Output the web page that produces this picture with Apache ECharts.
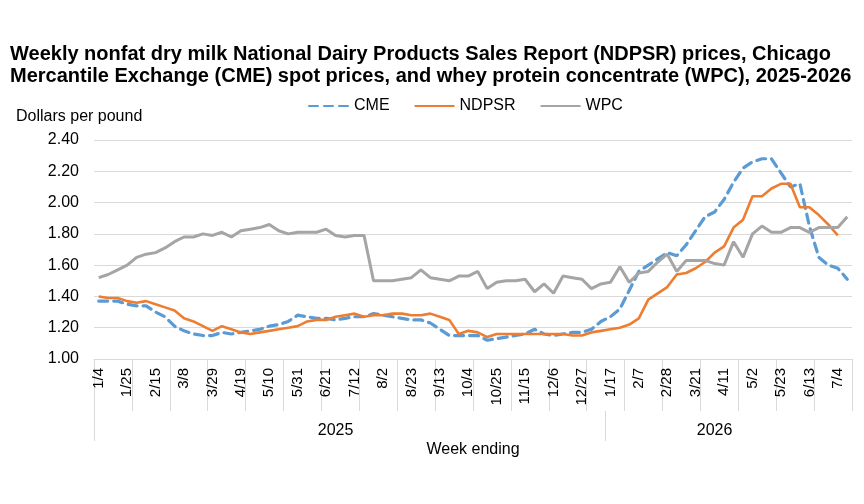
<!DOCTYPE html>
<html>
<head>
<meta charset="utf-8">
<script src="https://cdn.jsdelivr.net/npm/echarts@6/dist/echarts.min.js"></script>
<style>
  html, body { margin: 0; padding: 0; background: #fff; }
  #chart { width: 864px; height: 504px; }
</style>
</head>
<body>
<div id="chart"></div>
<script>
// week ending dates, 2025 then 2026
var weeks = [
  '1/4','1/11','1/18','1/25','2/1','2/8','2/15','2/22','3/1','3/8','3/15','3/22','3/29',
  '4/5','4/12','4/19','4/26','5/3','5/10','5/17','5/24','5/31','6/7','6/14','6/21','6/28',
  '7/5','7/12','7/19','7/26','8/2','8/9','8/16','8/23','8/30','9/6','9/13','9/20','9/27',
  '10/4','10/11','10/18','10/25','11/1','11/8','11/15','11/22','11/29','12/6','12/13','12/20','12/27',
  '1/3','1/10','1/17','1/24','1/31','2/7','2/14','2/21','2/28','3/7','3/14','3/21','3/28',
  '4/4','4/11','4/18','4/25','5/2','5/9','5/16','5/23','5/30','6/6','6/13','6/20','6/27',
  '7/4','7/11'
];
var years = ['2025', '2026'];
var yearLabelIndex = [25, 65];   // week under which each year label sits
var yearBreaks = [0, 54];        // week boundaries where the year separator lines are drawn

var cme = [
  1.37,1.37,1.37,1.35,1.34,1.34,1.30,1.27,1.21,1.18,1.16,1.15,1.15,1.17,1.16,1.17,1.18,1.19,1.21,1.22,
  1.24,1.28,1.27,1.26,1.26,1.25,1.26,1.27,1.27,1.29,1.28,1.27,1.26,1.25,1.25,1.23,1.19,1.15,1.15,1.15,
  1.15,1.12,1.13,1.14,1.15,1.16,1.19,1.16,1.15,1.16,1.17,1.17,1.19,1.24,1.27,1.32,1.44,1.56,1.60,1.64,
  1.68,1.66,1.73,1.82,1.91,1.94,2.02,2.13,2.22,2.26,2.28,2.28,2.19,2.10,2.12,1.85,1.65,1.60,1.58,1.51
];
var ndpsr = [
  1.40,1.39,1.39,1.37,1.36,1.37,1.35,1.33,1.31,1.26,1.24,1.21,1.18,1.21,1.19,1.17,1.16,1.17,1.18,1.19,
  1.20,1.21,1.24,1.25,1.25,1.27,1.28,1.29,1.27,1.28,1.28,1.29,1.29,1.28,1.28,1.29,1.27,1.25,1.16,1.18,
  1.17,1.14,1.16,1.16,1.16,1.16,1.16,1.16,1.16,1.16,1.15,1.15,1.17,1.18,1.19,1.20,1.22,1.26,1.38,1.42,
  1.46,1.54,1.55,1.58,1.62,1.68,1.72,1.84,1.89,2.04,2.04,2.09,2.12,2.12,1.97,1.97,1.92,1.86,1.79,null
];
var wpc = [
  1.52,1.54,1.57,1.60,1.65,1.67,1.68,1.71,1.75,1.78,1.78,1.80,1.79,1.81,1.78,1.82,1.83,1.84,1.86,1.82,
  1.80,1.81,1.81,1.81,1.83,1.79,1.78,1.79,1.79,1.50,1.50,1.50,1.51,1.52,1.57,1.52,1.51,1.50,1.53,1.53,
  1.56,1.45,1.49,1.50,1.50,1.51,1.43,1.48,1.42,1.53,1.52,1.51,1.45,1.48,1.49,1.59,1.49,1.55,1.56,1.62,
  1.67,1.56,1.63,1.63,1.63,1.61,1.60,1.75,1.65,1.80,1.85,1.81,1.81,1.84,1.84,1.81,1.84,1.84,1.84,1.91
];

var font = 'Liberation Sans, Arial, sans-serif';
var gridLine = '#d9d9d9';

var chart = echarts.init(document.getElementById('chart'));

var yearLabelPos = yearLabelIndex.map(function (i) { return i + 0.5; });

var option = {
  animation: false,
  textStyle: { fontFamily: font, color: '#000' },
  title: [
    {
      text: 'Weekly nonfat dry milk National Dairy Products Sales Report (NDPSR) prices, Chicago\n' +
            'Mercantile Exchange (CME) spot prices, and whey protein concentrate (WPC), 2025-2026',
      left: 5,
      top: 38,
      textStyle: { fontFamily: font, fontSize: 20, fontWeight: 'bold', lineHeight: 22, color: '#000' }
    },
    {
      text: 'Dollars per pound',
      left: 11,
      top: 104,
      textStyle: { fontFamily: font, fontSize: 16, fontWeight: 'normal', color: '#000' }
    }
  ],
  legend: {
    left: 303,
    top: 93,
    itemWidth: 40,
    itemHeight: 14,
    itemGap: 24,
    itemStyle: { opacity: 0 },
    textStyle: { fontFamily: font, fontSize: 16, color: '#000' },
    data: ['CME', 'NDPSR', 'WPC']
  },
  grid: { left: 94, right: 12, top: 140, bottom: 145 },
  xAxis: [
    {
      type: 'category',
      data: weeks,
      boundaryGap: true,
      axisLine: { show: true, lineStyle: { color: gridLine, width: 1 } },
      axisTick: { show: true, interval: 3, length: 52, lineStyle: { color: gridLine } },
      axisLabel: {
        interval: 2,
        rotate: 90,
        margin: 9,
        fontSize: 15,
        color: '#000',
        fontFamily: font
      },
      splitLine: { show: false }
    },
    {
      // year row under the week labels
      type: 'value',
      min: 0,
      max: weeks.length,
      position: 'bottom',
      offset: 52,
      axisLine: { show: false },
      axisTick: {
        show: true,
        length: 30,
        customValues: yearBreaks,
        lineStyle: { color: gridLine }
      },
      axisLabel: {
        margin: 12,
        fontSize: 16,
        color: '#000',
        fontFamily: font,
        customValues: yearLabelPos,
        formatter: function (v) {
          for (var k = 0; k < yearLabelPos.length; k++) {
            if (Math.abs(v - yearLabelPos[k]) < 1e-6) return years[k];
          }
          return '';
        }
      },
      name: 'Week ending',
      nameLocation: 'middle',
      nameGap: 31,
      nameTextStyle: { fontSize: 16, color: '#000', fontFamily: font },
      splitLine: { show: false }
    }
  ],
  yAxis: {
    type: 'value',
    min: 1,
    max: 2.4,
    interval: 0.2,
    axisLine: { show: false },
    axisTick: { show: false },
    axisLabel: {
      margin: 15,
      fontSize: 16,
      color: '#000',
      fontFamily: font,
      formatter: function (v) { return v.toFixed(2); }
    },
    splitLine: { lineStyle: { color: gridLine, width: 1 } }
  },
  series: [
    {
      name: 'CME',
      type: 'line',
      data: cme,
      symbol: 'none',
      color: '#5B9BD5',
      lineStyle: { width: 3.2, type: [9, 6], cap: 'round', color: '#5B9BD5' },
      emphasis: { disabled: true }
    },
    {
      name: 'NDPSR',
      type: 'line',
      data: ndpsr,
      symbol: 'none',
      color: '#ED7D31',
      lineStyle: { width: 2.6, color: '#ED7D31' },
      emphasis: { disabled: true }
    },
    {
      name: 'WPC',
      type: 'line',
      data: wpc,
      symbol: 'none',
      color: '#A5A5A5',
      lineStyle: { width: 3, color: '#A5A5A5' },
      emphasis: { disabled: true }
    }
  ]
};

chart.setOption(option);
</script>
</body>
</html>
